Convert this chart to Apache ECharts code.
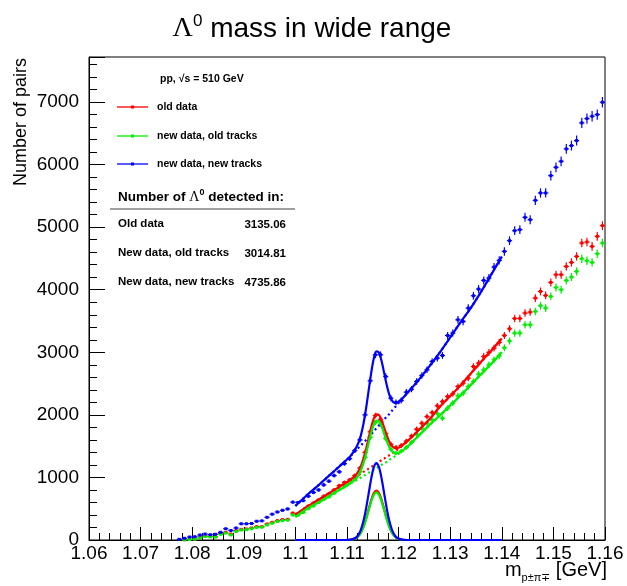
<!DOCTYPE html>
<html>
<head>
<meta charset="utf-8">
<script src="https://cdn.jsdelivr.net/npm/echarts@6/dist/echarts.min.js"></script>
<style>
  html, body { margin: 0; padding: 0; background: #fff; }
  #chart { width: 627px; height: 586px; }
</style>
</head>
<body>
<div id="chart"></div>
<script>
// Lambda0 invariant mass spectra, 1 MeV bins (bin centres)
var binCenters = [
    1.0775, 1.0785, 1.0795, 1.0805, 1.0815, 1.0825, 1.0835, 1.0845, 1.0855, 1.0865,
    1.0875, 1.0885, 1.0895, 1.0905, 1.0915, 1.0925, 1.0935, 1.0945, 1.0955, 1.0965,
    1.0975, 1.0985, 1.0995, 1.1005, 1.1015, 1.1025, 1.1035, 1.1045, 1.1055, 1.1065,
    1.1075, 1.1085, 1.1095, 1.1105, 1.1115, 1.1125, 1.1135, 1.1145, 1.1155, 1.1165,
    1.1175, 1.1185, 1.1195, 1.1205, 1.1215, 1.1225, 1.1235, 1.1245, 1.1255, 1.1265,
    1.1275, 1.1285, 1.1295, 1.1305, 1.1315, 1.1325, 1.1335, 1.1345, 1.1355, 1.1365,
    1.1375, 1.1385, 1.1395, 1.1405, 1.1415, 1.1425, 1.1435, 1.1445, 1.1455, 1.1465,
    1.1475, 1.1485, 1.1495, 1.1505, 1.1515, 1.1525, 1.1535, 1.1545, 1.1555, 1.1565,
    1.1575, 1.1585, 1.1595
];

var oldData = [
    null, 5, 11, 16, 43, 64, 59, 53, 107, 123,
    96, 149, 171, 176, 192, 213, 213, 256, 283, 309,
    325, 331, 430, 425, 470, 540, 590, 640, 700, 740,
    800, 870, 920, 960, 1030, 1150, 1400, 1730, 1990, 1930,
    1700, 1530, 1480, 1510, 1580, 1660, 1771, 1867, 1973, 2037,
    2144, 2213, 2293, 2336, 2453, 2507, 2587, 2773, 2827, 2933,
    2997, 3067, 3157, 3269, 3376, 3541, 3541, 3627, 3643, 3867,
    3973, 3909, 4117, 4240, 4240, 4373, 4437, 4533, 4747, 4763,
    4693, 4853, 5024
];

var newDataOldTracks = [
    null, 3, 8, 12, 35, 55, 50, 48, 90, 110,
    80, 135, 160, 165, 180, 200, 205, 240, 268, 295,
    310, 318, 400, 395, 440, 500, 545, 600, 650, 690,
    750, 820, 870, 910, 980, 1090, 1320, 1640, 1880, 1850,
    1620, 1450, 1390, 1420, 1480, 1560, 1690, 1787, 1867, 1920,
    2020, 1947, 2107, 2187, 2304, 2347, 2453, 2533, 2651, 2720,
    2800, 2880, 2944, 3072, 3180, 3307, 3307, 3440, 3440, 3653,
    3744, 3707, 3893, 4037, 4000, 4149, 4203, 4293, 4496, 4464,
    4437, 4576, 4747
];

var newDataNewTracks = [
    11, 27, 48, 53, 80, 96, 85, 91, 123, 180,
    152, 192, 259, 259, 264, 300, 306, 363, 413, 448,
    475, 496, 605, 600, 630, 700, 760, 800, 880, 940,
    1030, 1090, 1220, 1300, 1430, 1600, 2000, 2544, 2960, 2960,
    2613, 2267, 2200, 2229, 2363, 2411, 2533, 2629, 2720, 2853,
    2907, 2949, 3269, 3307, 3520, 3493, 3707, 3904, 4011, 4149,
    4187, 4363, 4469, 4613, 4784, 4944, 4960, 5157, 5120, 5429,
    5547, 5547, 5824, 5957, 6053, 6251, 6304, 6384, 6667, 6736,
    6773, 6800, 6997
];

// Fit curves, fit range 1.10 - 1.14
var fitX = [
    1.100, 1.102, 1.104, 1.106, 1.1077, 1.1097, 1.1107, 1.1117, 1.1122, 1.1127,
    1.1132, 1.1137, 1.1142, 1.1147, 1.1152, 1.1157, 1.1162, 1.1167, 1.1172, 1.1177,
    1.1182, 1.1187, 1.1192, 1.1197, 1.1207, 1.1217, 1.1237, 1.126, 1.128, 1.130,
    1.132, 1.134, 1.136, 1.138, 1.140
];

var oldFitTotal = [
    400, 520, 620, 720, 810, 910, 964, 1038, 1097, 1181,
    1305, 1458, 1635, 1807, 1945, 2010, 2000, 1917, 1795, 1673,
    1570, 1506, 1472, 1468, 1514, 1580, 1740, 1930, 2130, 2300,
    2470, 2660, 2850, 3030, 3220
];
var oldFitBkg = [
    400, 520, 620, 720, 810, 910, 960, 1010, 1035, 1060,
    1090, 1115, 1140, 1165, 1195, 1220, 1250, 1275, 1300, 1330,
    1355, 1385, 1410, 1440, 1510, 1580, 1740, 1930, 2130, 2300,
    2470, 2660, 2850, 3030, 3220
];
var oldFitSignal = [
    0, 0, 0, 0, 0, 0, 4, 28, 62, 121,
    215, 343, 495, 642, 750, 790, 750, 642, 495, 343,
    215, 121, 62, 28, 4, 0, 0, 0, 0, 0,
    0, 0, 0, 0, 0
];

var oldTrkFitTotal = [
    370, 485, 580, 675, 760, 855, 909, 977, 1034, 1117,
    1232, 1380, 1551, 1717, 1846, 1910, 1896, 1817, 1701, 1580,
    1487, 1422, 1389, 1387, 1424, 1490, 1650, 1840, 1990, 2150,
    2310, 2480, 2650, 2820, 3000
];
var oldTrkFitBkg = [
    370, 485, 580, 675, 760, 855, 905, 950, 975, 1000,
    1025, 1050, 1075, 1100, 1125, 1150, 1175, 1200, 1225, 1250,
    1280, 1305, 1330, 1360, 1420, 1490, 1650, 1840, 1990, 2150,
    2310, 2480, 2650, 2820, 3000
];
var oldTrkFitSignal = [
    0, 0, 0, 0, 0, 0, 4, 27, 59, 117,
    207, 330, 476, 617, 721, 760, 721, 617, 476, 330,
    207, 117, 59, 27, 4, 0, 0, 0, 0, 0,
    0, 0, 0, 0, 0
];

var newTrkFitTotal = [
    544, 700, 840, 990, 1115, 1265, 1345, 1465, 1551, 1676,
    1862, 2106, 2391, 2675, 2904, 3015, 2994, 2860, 2671, 2476,
    2322, 2231, 2191, 2195, 2260, 2350, 2540, 2780, 3000, 3240,
    3480, 3710, 3970, 4250, 4530
];
var newTrkFitBkg = [
    544, 700, 840, 990, 1115, 1265, 1340, 1430, 1470, 1510,
    1555, 1600, 1645, 1690, 1740, 1785, 1830, 1875, 1925, 1970,
    2015, 2065, 2110, 2160, 2255, 2350, 2540, 2780, 3000, 3240,
    3480, 3710, 3970, 4250, 4530
];
var newTrkFitSignal = [
    0, 0, 0, 0, 0, 0, 5, 35, 81, 166,
    307, 506, 746, 985, 1164, 1230, 1164, 985, 746, 506,
    307, 166, 81, 35, 5, 0, 0, 0, 0, 0,
    0, 0, 0, 0, 0
];

var xTicks = [1.06, 1.07, 1.08, 1.09, 1.10, 1.11, 1.12, 1.13, 1.14, 1.15, 1.16];
var yTicks = [0, 1000, 2000, 3000, 4000, 5000, 6000, 7000];

var legendNames = ['old data', 'new data, old tracks', 'new data, new tracks'];
var tableRows = ['Old data', 'New data, old tracks', 'New data, new tracks'];
var tableYields = ['3135.06', '3014.81', '4735.86'];

var RED = '#ff0000';
var GREEN = '#00ee00';
var BLUE = '#0000ff';
var FONT = '"Liberation Sans", Arial, Helvetica, sans-serif';
var HALF_BIN = 0.0005;

function pairs(xs, ys) {
    var out = [];
    for (var i = 0; i < xs.length; i++) {
        if (ys[i] === null || ys[i] === undefined) continue;
        out.push([xs[i], ys[i]]);
    }
    return out;
}

// data point drawn ROOT-style: horizontal bin-width bar, vertical sqrt(N) error, small marker
function crossRenderer(color) {
    return function (params, api) {
        var x = api.value(0), y = api.value(1);
        var err = Math.sqrt(y);
        var c = api.coord([x, y]);
        var xl = api.coord([x - HALF_BIN, y])[0];
        var xr = api.coord([x + HALF_BIN, y])[0];
        var yt = api.coord([x, y + err])[1];
        var yb = api.coord([x, y - err])[1];
        return {
            type: 'group',
            children: [
                { type: 'line', shape: { x1: xl, y1: c[1], x2: xr, y2: c[1] }, style: { stroke: color, lineWidth: 1.2 } },
                { type: 'line', shape: { x1: c[0], y1: yt, x2: c[0], y2: yb }, style: { stroke: color, lineWidth: 1.2 } },
                { type: 'rect', shape: { x: c[0] - 1.5, y: c[1] - 1.5, width: 3, height: 3 }, style: { fill: color } }
            ]
        };
    };
}

function dataSeries(name, ys, color) {
    return {
        name: name,
        type: 'custom',
        renderItem: crossRenderer(color),
        data: pairs(binCenters, ys),
        encode: { x: 0, y: 1 },
        z: 2,
        silent: true
    };
}

function curveSeries(ys, color, dotted, z) {
    return {
        type: 'line',
        data: pairs(fitX, ys),
        showSymbol: false,
        symbol: 'none',
        smooth: 0.3,
        lineStyle: { color: color, width: dotted ? 2.2 : 2.2, type: dotted ? [2, 3] : 'solid' },
        z: z,
        silent: true
    };
}

// legend + yield table drawn as plain graphics
var graphics = [];
graphics.push({
    type: 'text',
    style: {
        text: '{g|\u039B}{s|0}{t| mass in wide range}',
        x: 312, y: 28,
        align: 'center', verticalAlign: 'middle',
        textAlign: 'center', textVerticalAlign: 'middle',
        rich: {
            g: { fontFamily: '"Liberation Serif", serif', fontSize: 28, lineHeight: 30, verticalAlign: 'bottom' },
            s: { fontFamily: FONT, fontSize: 17, lineHeight: 17, verticalAlign: 'top' },
            t: { fontFamily: FONT, fontSize: 28, lineHeight: 30, verticalAlign: 'bottom' }
        },
        fill: '#000'
    }
});
graphics.push({
    type: 'text',
    x: 21, y: 58,
    rotation: Math.PI / 2,
    style: {
        text: 'Number of pairs',
        font: '18px ' + FONT,
        align: 'right', verticalAlign: 'middle',
        textAlign: 'right', textVerticalAlign: 'middle',
        fill: '#000'
    }
});
graphics.push({
    type: 'text',
    style: {
        text: '{m|m}{s|p\u00B1\u03C0\u2213}{u| [GeV]}',
        x: 607, y: 570,
        align: 'right', verticalAlign: 'middle',
        textAlign: 'right', textVerticalAlign: 'middle',
        rich: {
            m: { fontFamily: FONT, fontSize: 20, lineHeight: 26, verticalAlign: 'middle' },
            s: { fontFamily: FONT, fontSize: 11, lineHeight: 11, verticalAlign: 'bottom' },
            u: { fontFamily: FONT, fontSize: 20, lineHeight: 26, verticalAlign: 'middle' }
        },
        fill: '#000'
    }
});
graphics.push({
    type: 'text',
    style: {
        text: 'pp, \u221As = 510 GeV', x: 160, y: 79,
        font: 'bold 10.5px ' + FONT, verticalAlign: 'middle', textVerticalAlign: 'middle', fill: '#000'
    }
});
var legendColors = [RED, GREEN, BLUE];
var legendY = [107, 136, 164];
for (var i = 0; i < legendNames.length; i++) {
    graphics.push({ type: 'line', shape: { x1: 117, y1: legendY[i], x2: 148, y2: legendY[i] }, style: { stroke: legendColors[i], lineWidth: 1.3 } });
    graphics.push({ type: 'rect', shape: { x: 131, y: legendY[i] - 1.5, width: 3, height: 3 }, style: { fill: legendColors[i] } });
    graphics.push({
        type: 'text',
        style: {
            text: legendNames[i], x: 157, y: legendY[i],
            font: 'bold 10.5px ' + FONT, verticalAlign: 'middle', textVerticalAlign: 'middle', fill: '#000'
        }
    });
}
graphics.push({
    type: 'text',
    style: {
        text: '{a|Number of }{g|\u039B}{s|0}{a| detected in:}', x: 118, y: 196,
        verticalAlign: 'middle', textVerticalAlign: 'middle',
        rich: {
            a: { fontFamily: FONT, fontWeight: 'bold', fontSize: 13.5, lineHeight: 16, verticalAlign: 'bottom' },
            g: { fontFamily: '"Liberation Serif", serif', fontSize: 14, lineHeight: 16, verticalAlign: 'bottom' },
            s: { fontFamily: FONT, fontWeight: 'bold', fontSize: 9, lineHeight: 9, verticalAlign: 'top' }
        },
        fill: '#000'
    }
});
graphics.push({ type: 'line', shape: { x1: 110, y1: 209, x2: 295, y2: 209 }, style: { stroke: '#808080', lineWidth: 1.5 } });
var rowY = [224, 253, 282];
for (var j = 0; j < tableRows.length; j++) {
    graphics.push({
        type: 'text',
        style: { text: tableRows[j], x: 118, y: rowY[j], font: 'bold 11.5px ' + FONT, verticalAlign: 'middle', textVerticalAlign: 'middle', fill: '#000' }
    });
    graphics.push({
        type: 'text',
        style: { text: tableYields[j], x: 286, y: rowY[j] + 1, font: 'bold 11.5px ' + FONT, align: 'right', textAlign: 'right', verticalAlign: 'middle', textVerticalAlign: 'middle', fill: '#000' }
    });
}

var chart = echarts.init(document.getElementById('chart'), null, { renderer: 'canvas' });

chart.setOption({
    animation: false,
    backgroundColor: '#fff',
    grid: {
        left: 89, right: 22, top: 57, bottom: 46,
        show: true, borderColor: '#000', borderWidth: 1,
        outerBoundsMode: 'none', containLabel: false
    },
    xAxis: {
        type: 'value',
        min: xTicks[0], max: xTicks[xTicks.length - 1], interval: 0.01,
        axisLine: { show: true, lineStyle: { color: '#000', width: 1 } },
        axisTick: { show: true, inside: true, length: 13, lineStyle: { color: '#000' } },
        minorTick: { show: true, splitNumber: 5, length: 7, lineStyle: { color: '#000' } },
        splitLine: { show: false },
        axisLabel: {
            color: '#000', fontFamily: FONT, fontSize: 19, margin: 4,
            formatter: function (v) { return String(parseFloat(v.toFixed(2))); }
        }
    },
    yAxis: {
        type: 'value',
        min: 0, max: 7720, interval: 1000,
        axisLine: { show: true, lineStyle: { color: '#000', width: 1 } },
        axisTick: { show: true, inside: true, length: 16, lineStyle: { color: '#000' } },
        minorTick: { show: true, splitNumber: 5, length: 8, lineStyle: { color: '#000' } },
        splitLine: { show: false },
        axisLabel: {
            color: '#000', fontFamily: FONT, fontSize: 19, margin: 10,
            formatter: function (v) { return yTicks.indexOf(v) >= 0 ? String(v) : ''; }
        }
    },
    graphic: graphics,
    series: [
        dataSeries('old data', oldData, RED),
        dataSeries('new data, old tracks', newDataOldTracks, GREEN),
        dataSeries('new data, new tracks', newDataNewTracks, BLUE),
        curveSeries(oldFitBkg, RED, true, 3),
        curveSeries(oldTrkFitBkg, GREEN, true, 3),
        curveSeries(newTrkFitBkg, BLUE, true, 3),
        curveSeries(oldFitTotal, RED, false, 4),
        curveSeries(oldTrkFitTotal, GREEN, false, 4),
        curveSeries(newTrkFitTotal, BLUE, false, 4),
        curveSeries(oldFitSignal, RED, false, 5),
        curveSeries(oldTrkFitSignal, GREEN, false, 5),
        curveSeries(newTrkFitSignal, BLUE, false, 5)
    ]
});

window.addEventListener('resize', function () {
    if (chart) chart.resize();
});
</script>
</body>
</html>
